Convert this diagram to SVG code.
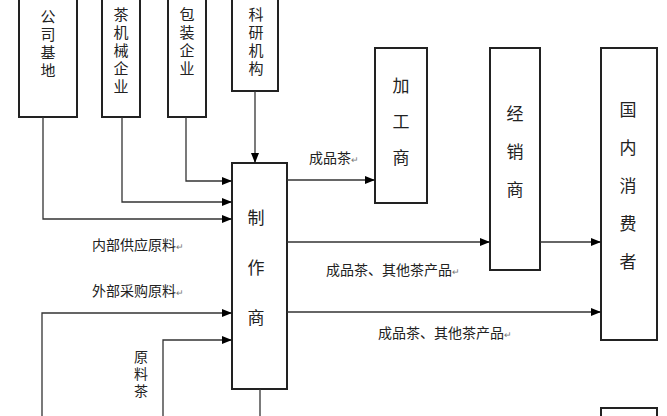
<svg xmlns="http://www.w3.org/2000/svg" width="667" height="416" viewBox="0 0 667 416">
<defs>
<marker id="a" markerWidth="10" markerHeight="8" refX="9" refY="4" orient="auto" markerUnits="userSpaceOnUse"><path d="M0,0 L10,4 L0,8 Z" fill="#000"/></marker>
<style>
.b{fill:#fff;stroke:#222;stroke-width:2}
.c{fill:none;stroke:#333;stroke-width:1.3}
.t{font-family:"Noto Sans CJK SC","Liberation Sans",sans-serif;fill:#222}
.vt{writing-mode:vertical-rl}
.v{font-size:15px;letter-spacing:3px}
.w{font-size:17px}
.h{font-size:14px}
.m{font-size:9px;fill:#777}
</style>
</defs>
<rect width="667" height="416" fill="#fff"/>
<g id="n1"><rect class="b" x="19" y="-5" width="58" height="122"/><text class="t vt v" x="48" y="9">公司基地</text></g>
<g id="n2"><rect class="b" x="102" y="-5" width="38" height="122"/><text class="t vt v" x="121" y="7">茶机械企业</text></g>
<g id="n3"><rect class="b" x="168" y="-5" width="38" height="122"/><text class="t vt v" x="187" y="7">包装企业</text></g>
<g id="n4"><rect class="b" x="232" y="-5" width="46" height="96"/><text class="t vt v" x="256" y="7">科研机构</text></g>
<g id="n5"><rect class="b" x="232" y="163" width="55" height="226"/><text class="t vt w" x="256" y="209" letter-spacing="33">制作商</text></g>
<g id="n6"><rect class="b" x="375" y="48" width="52" height="155"/><text class="t vt w" x="401" y="77" letter-spacing="19">加工商</text></g>
<g id="n7"><rect class="b" x="490" y="48" width="50" height="222"/><text class="t vt w" x="515" y="105" letter-spacing="21">经销商</text></g>
<g id="n8"><rect class="b" x="601" y="48" width="56" height="292"/><text class="t vt w" x="628" y="101" letter-spacing="21">国内消费者</text></g>
<g id="n9"><rect class="b" x="601" y="408" width="56" height="20"/></g>
<g id="edges">
<path class="c" d="M255,91 V162" marker-end="url(#a)"/>
<path class="c" d="M186,117 V181 H231" marker-end="url(#a)"/>
<path class="c" d="M122,117 V202 H231" marker-end="url(#a)"/>
<path class="c" d="M43,117 V219 H231" marker-end="url(#a)"/>
<path class="c" d="M42,416 V313 H231" marker-end="url(#a)"/>
<path class="c" d="M163,416 V340 H231" marker-end="url(#a)"/>
<path class="c" d="M260,389 V416"/>
<path class="c" d="M287,180 H374" marker-end="url(#a)"/>
<path class="c" d="M287,242 H489" marker-end="url(#a)"/>
<path class="c" d="M540,242 H600" marker-end="url(#a)"/>
<path class="c" d="M287,312 H600" marker-end="url(#a)"/>
</g>
<g id="labels">
<text class="t h" x="309" y="163">成品茶<tspan class="m">↵</tspan></text>
<text class="t h" x="326" y="275">成品茶、其他茶产品<tspan class="m">↵</tspan></text>
<text class="t h" x="378" y="338">成品茶、其他茶产品<tspan class="m">↵</tspan></text>
<text class="t h" x="92" y="250">内部供应原料<tspan class="m">↵</tspan></text>
<text class="t h" x="92" y="296">外部采购原料<tspan class="m">↵</tspan></text>
<text class="t h vt" x="141" y="350" letter-spacing="3">原料茶</text>
</g>
</svg>
